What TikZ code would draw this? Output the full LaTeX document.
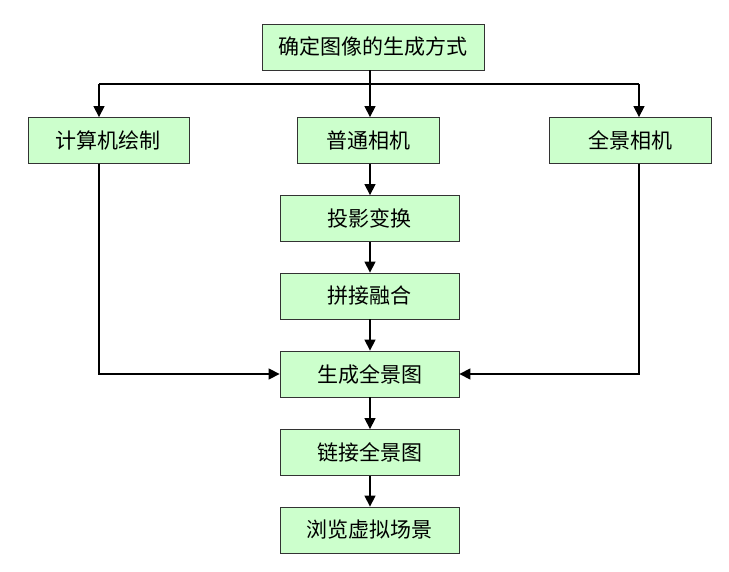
\documentclass[tikz,border=0pt]{standalone}
\usepackage{fontspec}
\setmainfont{Noto Sans CJK SC}
\usetikzlibrary{arrows.meta}
\definecolor{boxgreen}{HTML}{CCFFCC}
\begin{document}
\begin{tikzpicture}[x=1pt,y=-1pt,
  box/.style={draw=black!80, line width=0.8pt, fill=boxgreen, minimum height=46pt, inner sep=0pt, font=\fontsize{21pt}{23pt}\selectfont},
  arr/.style={line width=1.3pt, -{Triangle[length=11pt,width=11pt]}}]
\useasboundingbox (0,0) rectangle (729,572);
\node[box, minimum width=222pt] (top) at (373,47) {确定图像的生成方式};
\node[box, minimum width=161pt] (cg) at (108.5,140.5) {计算机绘制};
\node[box, minimum width=142pt] (nc) at (368,140.5) {普通相机};
\node[box, minimum width=162pt] (pc) at (630,140.5) {全景相机};
\node[box, minimum width=179pt] (proj) at (369.5,218.5) {投影变换};
\node[box, minimum width=179pt] (stitch) at (369.5,296) {拼接融合};
\node[box, minimum width=179pt] (gen) at (369.5,374) {生成全景图};
\node[box, minimum width=179pt] (link) at (369.5,452.5) {链接全景图};
\node[box, minimum width=179pt] (browse) at (369.5,530) {浏览虚拟场景};
\coordinate (bl) at (99,84);
\coordinate (br) at (639,84);
\coordinate (bm) at (370,84);
\draw[line width=1.3pt] (bl) -- (br);
\draw[line width=1.3pt] (top.south -| bm) -- (bm);
\draw[arr] (bl) -- (bl |- cg.north);
\draw[arr] (bm) -- (bm |- nc.north);
\draw[arr] (br) -- (br |- pc.north);
\draw[arr] (nc.south -| bm) -- (bm |- proj.north);
\draw[arr] (proj.south -| bm) -- (bm |- stitch.north);
\draw[arr] (stitch.south -| bm) -- (bm |- gen.north);
\draw[arr] (gen.south -| bm) -- (bm |- link.north);
\draw[arr] (link.south -| bm) -- (bm |- browse.north);
\draw[arr] (bl |- cg.south) -- (bl |- gen.west) -- (gen.west);
\draw[arr] (br |- pc.south) -- (br |- gen.east) -- (gen.east);
\end{tikzpicture}
\end{document}
